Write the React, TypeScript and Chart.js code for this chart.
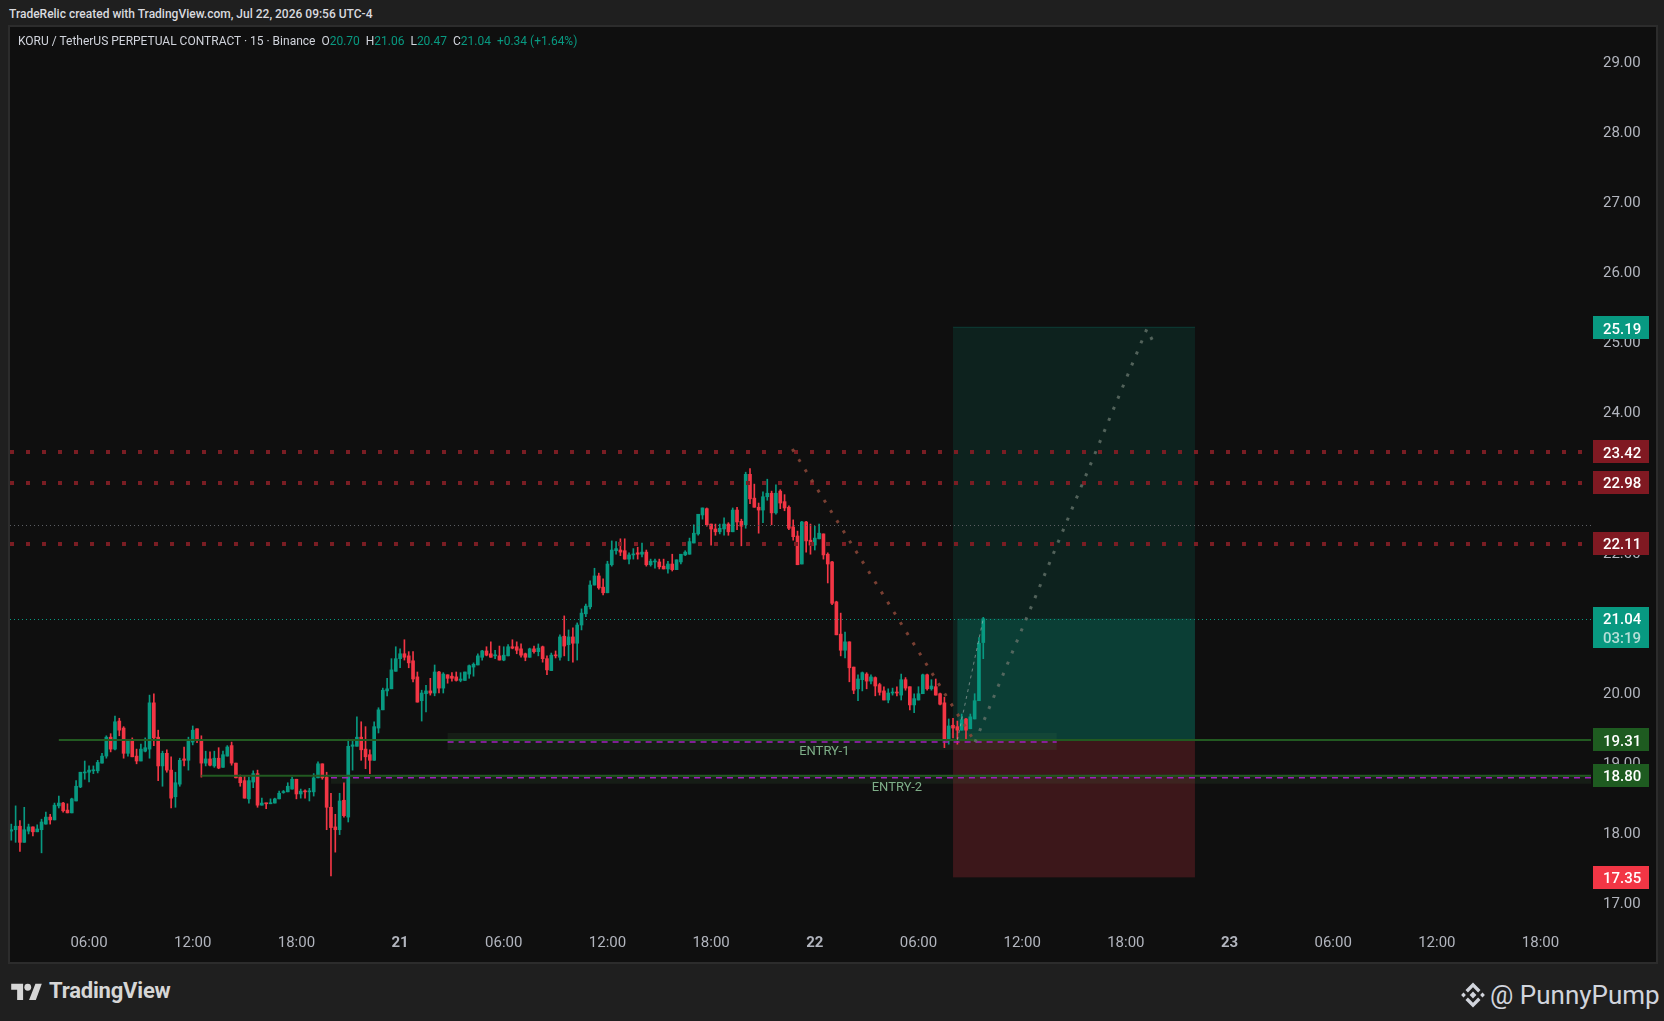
import React, { useEffect, useRef } from 'react';
import { Chart, registerables } from 'chart.js';

Chart.register(...registerables);

const FONT = "Roboto, 'Noto Sans', sans-serif";
const UP = '#089981';
const DOWN = '#f23645';

// time axis in hours counted from Jul 20, 00:00 (UTC-4); 15-minute candles
const firstCandleHour = 1.5;
const candleStepHours = 0.25;
const axisStartHour = 1.425;
const axisEndHour = 92.92;

const opens = [
  18.01,18.03,18.08,17.85,18.01,18.07,18.00,18.03,18.11,18.21,
  18.17,18.37,18.41,18.31,18.27,18.44,18.64,18.84,18.85,18.87,
  18.87,18.98,19.08,19.35,19.18,19.58,19.48,19.12,19.32,19.08,
  19.01,19.15,19.18,19.84,19.35,18.94,19.12,18.88,18.50,18.68,
  19.04,19.02,19.28,19.47,19.31,18.98,19.04,18.94,19.05,18.92,
  19.08,19.23,18.98,18.78,18.73,18.47,18.71,18.83,18.38,18.41,
  18.40,18.41,18.47,18.56,18.57,18.61,18.75,18.54,18.58,18.57,
  18.57,18.77,18.97,18.78,18.35,18.07,18.03,18.45,18.21,19.22,
  19.22,19.35,19.18,19.10,19.02,19.48,19.74,20.01,20.04,20.29,
  20.47,20.54,20.51,20.44,20.21,19.87,19.97,20.01,19.98,20.28,
  20.05,20.24,20.22,20.21,20.16,20.16,20.25,20.35,20.38,20.49,
  20.58,20.54,20.51,20.51,20.45,20.51,20.64,20.64,20.61,20.54,
  20.49,20.61,20.57,20.64,20.47,20.30,20.52,20.49,20.79,20.67,
  20.78,20.69,20.95,21.11,21.21,21.52,21.65,21.49,21.41,21.81,
  22.01,22.02,22.01,21.89,21.95,21.98,21.96,21.99,21.81,21.85,
  21.85,21.79,21.75,21.82,21.74,21.85,21.95,21.96,22.12,22.25,
  22.52,22.61,22.39,22.32,22.28,22.32,22.39,22.28,22.59,22.43,
  22.38,23.10,22.76,22.63,22.59,22.78,22.83,22.55,22.86,22.71,
  22.63,22.35,22.22,21.82,22.42,22.16,22.09,22.18,22.25,21.96,
  21.85,21.28,20.82,20.59,20.71,20.35,20.04,20.17,20.25,20.15,
  20.20,20.10,20.01,19.88,19.98,19.99,19.95,20.17,20.07,19.81,
  19.88,19.97,20.24,20.04,20.07,19.97,19.84,19.30,19.52,19.50,
  19.45,19.61,19.47,19.61,19.87,20.70,
];
const highs = [
  18.11,18.37,18.16,18.35,18.11,18.07,18.10,18.18,18.28,18.25,
  18.41,18.51,18.42,18.40,18.48,18.73,18.85,19.01,18.94,18.94,
  19.02,19.12,19.37,19.40,19.65,19.62,19.50,19.32,19.34,19.18,
  19.25,19.34,19.95,19.97,19.45,19.15,19.17,19.07,18.85,19.05,
  19.21,19.35,19.51,19.47,19.37,19.15,19.14,19.15,19.20,19.15,
  19.23,19.28,18.98,18.81,18.80,18.78,18.87,18.88,18.48,18.41,
  18.47,18.48,18.58,18.59,18.70,18.78,18.75,18.61,18.60,18.62,
  18.83,19.00,18.97,18.85,18.55,18.25,18.55,18.70,19.32,19.32,
  19.64,19.57,19.50,19.17,19.57,19.77,20.05,20.19,20.47,20.64,
  20.61,20.74,20.57,20.57,20.28,20.02,20.09,20.19,20.38,20.29,
  20.27,20.24,20.27,20.28,20.27,20.28,20.38,20.41,20.54,20.59,
  20.64,20.71,20.59,20.65,20.64,20.67,20.74,20.71,20.68,20.55,
  20.62,20.65,20.68,20.65,20.51,20.55,20.58,20.81,21.08,20.88,
  20.91,20.98,21.18,21.25,21.58,21.76,21.69,21.61,21.86,22.15,
  22.14,22.18,22.18,21.98,22.04,22.06,22.12,22.02,21.89,21.89,
  21.89,21.89,21.86,21.96,21.88,21.96,22.01,22.19,22.38,22.53,
  22.62,22.62,22.39,22.39,22.39,22.48,22.41,22.62,22.63,22.46,
  23.13,23.18,22.96,22.69,22.85,23.03,22.86,22.95,22.88,22.81,
  22.65,22.45,22.29,22.43,22.43,22.39,22.36,22.39,22.25,21.98,
  21.86,21.29,21.12,20.85,20.71,20.35,20.24,20.28,20.27,20.24,
  20.21,20.12,20.07,20.04,20.05,20.07,20.25,20.20,20.07,19.97,
  20.07,20.25,20.25,20.17,20.18,19.98,19.92,19.61,19.62,19.58,
  19.68,19.62,19.68,19.97,20.77,21.06,
];
const lows = [
  17.88,17.85,17.72,17.85,17.97,17.94,18.00,17.70,18.11,18.11,
  18.17,18.34,18.28,18.27,18.27,18.44,18.63,18.75,18.71,18.83,
  18.84,18.98,19.05,19.14,19.17,19.37,19.05,19.08,19.07,18.97,
  19.01,19.14,19.05,19.23,18.73,18.65,18.85,18.34,18.35,18.65,
  18.94,18.88,19.24,19.27,18.78,18.94,18.94,18.92,18.90,18.92,
  19.08,18.95,18.77,18.65,18.48,18.41,18.63,18.35,18.38,18.33,
  18.40,18.41,18.47,18.55,18.57,18.61,18.47,18.48,18.48,18.44,
  18.51,18.77,18.75,18.03,17.37,17.71,17.96,18.21,18.14,18.88,
  19.22,19.02,18.90,18.83,19.02,19.41,19.74,19.94,20.04,20.29,
  20.34,20.45,20.34,20.14,19.85,19.58,19.71,19.95,19.94,19.98,
  19.98,20.12,20.15,20.15,20.14,20.16,20.19,20.22,20.38,20.45,
  20.51,20.49,20.47,20.45,20.44,20.51,20.61,20.54,20.49,20.44,
  20.49,20.55,20.51,20.42,20.24,20.30,20.48,20.45,20.51,20.44,
  20.42,20.45,20.88,21.07,21.18,21.52,21.46,21.38,21.41,21.79,
  21.96,21.94,21.89,21.82,21.89,21.89,21.92,21.79,21.79,21.76,
  21.75,21.75,21.69,21.72,21.74,21.82,21.94,21.96,22.12,22.23,
  22.46,22.36,22.09,22.23,22.25,22.23,22.23,22.28,22.31,22.08,
  22.33,22.68,22.63,22.26,22.41,22.73,22.38,22.53,22.61,22.58,
  22.31,22.16,21.81,21.82,21.99,21.96,22.02,22.18,21.89,21.55,
  21.24,20.81,20.51,20.48,20.14,19.97,19.87,20.01,20.04,20.11,
  19.94,19.95,19.88,19.84,19.95,19.94,19.88,20.02,19.74,19.70,
  19.88,19.97,20.02,20.02,19.95,19.81,19.20,19.25,19.34,19.25,
  19.45,19.32,19.47,19.61,19.87,20.47,
];
const closes = [
  18.03,18.08,17.85,18.03,18.07,18.00,18.04,18.14,18.21,18.17,
  18.38,18.41,18.30,18.27,18.47,18.65,18.85,18.85,18.88,18.88,
  18.99,19.08,19.35,19.18,19.57,19.45,19.12,19.32,19.07,19.01,
  19.18,19.20,19.84,19.34,18.94,19.12,18.88,18.48,18.70,19.02,
  19.02,19.30,19.45,19.30,18.98,19.04,18.95,19.05,18.91,19.10,
  19.21,18.98,18.77,18.70,18.48,18.73,18.83,18.38,18.41,18.40,
  18.41,18.47,18.55,18.57,18.65,18.75,18.54,18.58,18.57,18.58,
  18.77,18.97,18.77,18.35,18.06,18.03,18.44,18.23,19.22,19.24,
  19.35,19.17,19.07,19.02,19.50,19.74,20.02,20.04,20.31,20.47,
  20.54,20.49,20.41,20.18,19.85,19.98,20.01,19.98,20.28,20.05,
  20.25,20.19,20.19,20.16,20.18,20.28,20.37,20.39,20.51,20.58,
  20.52,20.49,20.52,20.45,20.52,20.64,20.62,20.59,20.52,20.49,
  20.61,20.57,20.62,20.47,20.31,20.52,20.51,20.78,20.65,20.78,
  20.69,20.95,21.12,21.22,21.52,21.65,21.48,21.41,21.82,22.02,
  22.04,21.99,21.89,21.95,21.96,21.96,21.99,21.81,21.86,21.86,
  21.78,21.75,21.82,21.74,21.88,21.96,21.99,22.14,22.26,22.53,
  22.62,22.38,22.32,22.28,22.33,22.39,22.28,22.59,22.42,22.36,
  23.10,22.75,22.63,22.59,22.78,22.83,22.55,22.83,22.69,22.62,
  22.33,22.21,21.81,22.42,22.15,22.09,22.19,22.26,21.95,21.82,
  21.26,20.81,20.59,20.71,20.34,20.02,20.18,20.27,20.15,20.21,
  20.08,19.99,19.88,19.98,19.99,19.98,20.17,20.05,19.81,19.90,
  19.97,20.24,20.04,20.08,19.95,19.82,19.30,19.51,19.48,19.45,
  19.60,19.45,19.64,19.87,20.69,21.04,
];

const timeTickHours = [6, 12, 18, 24, 30, 36, 42, 48, 54, 60, 66, 72, 78, 84, 90];
const timeTickLabels = ['06:00', '12:00', '18:00', '21', '06:00', '12:00', '18:00', '22', '06:00', '12:00', '18:00', '23', '06:00', '12:00', '18:00'];

const priceMin = 16.742;
const priceMax = 29.481;
const resistanceLevels = [23.42, 22.98, 22.11];
const referenceLevel = 22.38;
const lastPrice = 21.04;
const barCountdown = '03:19';
const entryLevels = [19.31, 18.80];
const entryLineStartHours = [4.25, 12.5];
const entryBandStartHours = [26.75, 20.0];
const entryBandEndHours = [62.0, 92.92];
const entryLabels = ['ENTRY-1', 'ENTRY-2'];
const entryLabelHours = [48.55, 52.75];
const positionTarget = 25.19;
const positionEntry = 19.31;
const positionStop = 17.35;
const positionStartHour = 56.0;
const positionEndHour = 70.0;
const positionFillStartHour = 56.25;
const pathDownHours = [46.7, 57.27];
const pathDownPrices = [23.46, 19.28];
const pathUpHours = [57.27, 67.21, 67.73];
const pathUpPrices = [19.28, 25.17, 24.92];
const tradeLineHours = [56.25, 57.75];
const tradeLinePrices = [19.31, 21.04];

const candleHours = opens.map((_, i) => firstCandleHour + i * candleStepHours);
const candleColors = opens.map((o, i) => (closes[i] >= o ? UP : DOWN));

function polyline(ctx: CanvasRenderingContext2D, xs: number[], ys: number[]) {
  ctx.beginPath();
  xs.forEach((px, i) => (i === 0 ? ctx.moveTo(px, ys[i]) : ctx.lineTo(px, ys[i])));
  ctx.stroke();
}

const overlayPlugin = {
  id: 'tvOverlay',
  beforeDatasetsDraw(chart: any) {
    const { ctx, chartArea: a, scales } = chart;
    const x = scales.x;
    const y = scales.y;
    ctx.save();
    ctx.beginPath();
    ctx.rect(a.left, a.top, a.right - a.left, a.bottom - a.top);
    ctx.clip();
    const xs = x.getPixelForValue(positionStartHour);
    const xe = x.getPixelForValue(positionEndHour);
    const xf = x.getPixelForValue(positionFillStartHour);
    const yT = y.getPixelForValue(positionTarget);
    const yE = y.getPixelForValue(positionEntry);
    const yS = y.getPixelForValue(positionStop);
    const yC = y.getPixelForValue(lastPrice);
    ctx.fillStyle = 'rgba(8,153,129,0.14)';
    ctx.fillRect(xs, yT, xe - xs, yE - yT);
    ctx.fillStyle = 'rgba(242,54,69,0.2)';
    ctx.fillRect(xs, yE, xe - xs, yS - yE);
    ctx.fillStyle = 'rgba(8,153,129,0.24)';
    ctx.fillRect(xf, yC, xe - xf, yE - yC);
    ctx.fillStyle = 'rgba(8,153,129,0.35)';
    ctx.fillRect(xs, yT - 1, xe - xs, 1);
    entryLevels.forEach((p, i) => {
      const yy = y.getPixelForValue(p);
      const x0 = x.getPixelForValue(entryBandStartHours[i]);
      const x1 = x.getPixelForValue(entryBandEndHours[i]);
      ctx.fillStyle = 'rgba(70,120,70,0.14)';
      if (i === 0) ctx.fillRect(x0, yy - 7, x1 - x0, 17);
      else ctx.fillRect(x0, yy, x1 - x0, 8);
    });
    ctx.restore();
  },
  afterDatasetsDraw(chart: any) {
    const { ctx, chartArea: a, scales } = chart;
    const x = scales.x;
    const y = scales.y;
    ctx.save();
    ctx.beginPath();
    ctx.rect(a.left, a.top, a.right - a.left, a.bottom - a.top);
    ctx.clip();
    ctx.strokeStyle = '#7a1d23';
    ctx.lineWidth = 4;
    ctx.setLineDash([4, 12]);
    resistanceLevels.forEach((p) => {
      const yy = Math.round(y.getPixelForValue(p));
      polyline(ctx, [a.left, a.right], [yy, yy]);
    });
    ctx.lineWidth = 1;
    ctx.setLineDash([1, 3]);
    ctx.strokeStyle = '#5b5e63';
    const yr = Math.round(y.getPixelForValue(referenceLevel)) + 0.5;
    polyline(ctx, [a.left, a.right], [yr, yr]);
    ctx.strokeStyle = UP;
    const yl = Math.round(y.getPixelForValue(lastPrice)) + 0.5;
    polyline(ctx, [a.left, a.right], [yl, yl]);
    entryLevels.forEach((p, i) => {
      const yy = y.getPixelForValue(p);
      ctx.setLineDash([]);
      ctx.lineWidth = 2;
      ctx.strokeStyle = '#225a21';
      polyline(ctx, [x.getPixelForValue(entryLineStartHours[i]), a.right], [yy, yy]);
      ctx.lineWidth = 1.5;
      ctx.setLineDash([6, 5]);
      ctx.strokeStyle = '#a21fbf';
      polyline(ctx, [x.getPixelForValue(entryBandStartHours[i]), x.getPixelForValue(entryBandEndHours[i])], [yy + 2, yy + 2]);
      ctx.setLineDash([]);
      ctx.fillStyle = '#7eae88';
      ctx.font = `13px ${FONT}`;
      ctx.textAlign = 'center';
      ctx.textBaseline = 'middle';
      ctx.fillText(entryLabels[i], x.getPixelForValue(entryLabelHours[i]), yy + 12);
    });
    ctx.lineWidth = 3;
    ctx.setLineDash([3, 9]);
    ctx.strokeStyle = 'rgba(140,72,56,0.85)';
    polyline(ctx, pathDownHours.map((h) => x.getPixelForValue(h)), pathDownPrices.map((p) => y.getPixelForValue(p)));
    ctx.strokeStyle = 'rgba(95,110,102,0.85)';
    polyline(ctx, pathUpHours.map((h) => x.getPixelForValue(h)), pathUpPrices.map((p) => y.getPixelForValue(p)));
    ctx.lineWidth = 1;
    ctx.setLineDash([3, 4]);
    ctx.strokeStyle = 'rgba(190,190,190,0.55)';
    polyline(ctx, tradeLineHours.map((h) => x.getPixelForValue(h)), tradeLinePrices.map((p) => y.getPixelForValue(p)));
    ctx.restore();
  },
  afterDraw(chart: any) {
    const { ctx, chartArea: a, scales } = chart;
    const y = scales.y;
    const tags = [
      { price: positionTarget, bg: UP },
      ...resistanceLevels.map((p) => ({ price: p, bg: '#801922' })),
      { price: entryLevels[0], bg: '#1e5b20' },
      { price: entryLevels[1], bg: '#1e5b20' },
      { price: positionStop, bg: DOWN },
    ];
    ctx.save();
    ctx.font = `500 15px ${FONT}`;
    ctx.textAlign = 'left';
    ctx.textBaseline = 'middle';
    tags.forEach((t) => {
      const py = y.getPixelForValue(t.price);
      ctx.fillStyle = t.bg;
      ctx.fillRect(a.right + 2, Math.round(py - 11.5), 56, 23);
      ctx.fillStyle = '#ffffff';
      ctx.fillText(t.price.toFixed(2), a.right + 12, py + 2);
    });
    const pc = y.getPixelForValue(lastPrice);
    ctx.fillStyle = UP;
    ctx.fillRect(a.right + 2, Math.round(pc - 11.5), 56, 41);
    ctx.fillStyle = '#ffffff';
    ctx.fillText(lastPrice.toFixed(2), a.right + 12, pc + 2);
    ctx.fillStyle = 'rgba(225,240,236,0.8)';
    ctx.fillText(barCountdown, a.right + 12, pc + 20.5);
    ctx.restore();
  },
};

function TvLogo() {
  return (
    <svg width="31" height="17" viewBox="0 0 36 20" style={{ position: 'absolute', left: 11, top: 983 }}>
      <path d="M14 20H7V8H0V1h14v19zM29 20h-8l7.5-19h7.5L29 20z" fill="#d6d6d6" />
      <circle cx="19.5" cy="5" r="4" fill="#d6d6d6" />
    </svg>
  );
}

function BinanceLogo() {
  return (
    <svg width="28" height="28" viewBox="0 0 28 28" style={{ position: 'absolute', left: 1459, top: 981 }}>
      <g fill="#d1d4dc">
        <polygon points="14,10.6 17.4,14 14,17.4 10.6,14" />
        <polygon points="4.5,11.6 6.9,14 4.5,16.4 2.1,14" />
        <polygon points="23.5,11.6 25.9,14 23.5,16.4 21.1,14" />
        <polygon points="14,1.5 21.5,9 19.1,11.4 14,6.3 8.9,11.4 6.5,9" />
        <polygon points="14,26.5 21.5,19 19.1,16.6 14,21.7 8.9,16.6 6.5,19" />
      </g>
    </svg>
  );
}

export default function App() {
  const canvasRef = useRef<HTMLCanvasElement | null>(null);

  useEffect(() => {
    const canvas = canvasRef.current;
    if (!canvas) return;
    const chart = new Chart(canvas, {
      type: 'bar',
      data: {
        datasets: [
          {
            label: 'wicks',
            data: candleHours.map((h, i) => ({ x: h, y: [lows[i], highs[i]] })) as any,
            backgroundColor: candleColors,
            barThickness: 1,
            grouped: false,
            borderWidth: 0,
          } as any,
          {
            label: 'bodies',
            data: candleHours.map((h, i) => ({ x: h, y: [opens[i], closes[i]] })) as any,
            backgroundColor: candleColors,
            barThickness: 3,
            minBarLength: 1,
            grouped: false,
            borderWidth: 0,
          } as any,
        ],
      },
      options: {
        animation: false,
        responsive: false,
        maintainAspectRatio: false,
        devicePixelRatio: 1,
        layout: { padding: 0 },
        plugins: { legend: { display: false }, tooltip: { enabled: false } },
        events: [],
        scales: {
          x: {
            type: 'linear',
            offset: false,
            min: axisStartHour,
            max: axisEndHour,
            grid: { display: false, drawTicks: false, offset: false },
            border: { display: false },
            afterFit: (s: any) => {
              s.height = 40;
              s.paddingLeft = 0;
              s.paddingRight = 0;
            },
            afterBuildTicks: (s: any) => { s.ticks = timeTickHours.map((v) => ({ value: v })); },
            ticks: {
              autoSkip: false,
              maxRotation: 0,
              padding: 14,
              color: '#b2b5be',
              font: (c: any) => {
                const idx = timeTickHours.indexOf(c.tick ? c.tick.value : -1);
                const isDay = idx >= 0 && !timeTickLabels[idx].includes(':');
                return { family: FONT, size: 15, weight: isDay ? 'bold' : 'normal' } as any;
              },
              callback: (v: any) => {
                const idx = timeTickHours.indexOf(Number(v));
                return idx >= 0 ? timeTickLabels[idx] : '';
              },
            },
          } as any,
          y: {
            type: 'linear',
            position: 'right',
            min: priceMin,
            max: priceMax,
            grace: 0,
            grid: { display: false, drawTicks: false },
            border: { display: false },
            afterFit: (s: any) => {
              s.width = 63;
              s.paddingTop = 0;
              s.paddingBottom = 0;
            },
            ticks: {
              stepSize: 1,
              includeBounds: false,
              padding: 12,
              labelOffset: 2.5,
              color: '#b2b5be',
              font: { family: FONT, size: 15 },
              callback: (v: any) => (Number.isInteger(Number(v)) ? Number(v).toFixed(2) : ''),
            },
          } as any,
        },
      },
      plugins: [overlayPlugin as any],
    });
    return () => chart.destroy();
  }, []);

  const green = { color: UP };
  return (
    <div style={{ position: 'fixed', left: 0, top: 0, width: 1664, height: 1021, background: '#1f1f1f', overflow: 'hidden', fontFamily: FONT }}>
      <div style={{ position: 'absolute', left: 9, top: 6, fontSize: 12, lineHeight: '16px', fontWeight: 500, color: '#d9dadf', whiteSpace: 'nowrap' }}>
        TradeRelic created with TradingView.com, Jul 22, 2026 09:56 UTC-4
      </div>
      <div style={{ position: 'absolute', left: 8, top: 25, width: 1646, height: 935, border: '2px solid #2c2c2c', background: '#0f0f0f' }} />
      <canvas ref={canvasRef} width={1644} height={933} style={{ position: 'absolute', left: 10, top: 27, width: 1644, height: 933 }} />
      <div style={{ position: 'absolute', left: 18, top: 34, fontSize: 12, lineHeight: '15px', color: '#d1d4dc', whiteSpace: 'nowrap' }}>
        KORU / TetherUS PERPETUAL CONTRACT · 15 · Binance&nbsp;&nbsp;O<span style={green}>20.70</span>&nbsp;&nbsp;H<span style={green}>21.06</span>&nbsp;&nbsp;L<span style={green}>20.47</span>&nbsp;&nbsp;C<span style={green}>21.04</span>&nbsp;&nbsp;<span style={green}>+0.34 (+1.64%)</span>
      </div>
      <TvLogo />
      <div style={{ position: 'absolute', left: 49, top: 978, fontSize: 22, lineHeight: '26px', fontWeight: 700, color: '#d6d6d6', whiteSpace: 'nowrap', letterSpacing: -0.2 }}>
        TradingView
      </div>
      <BinanceLogo />
      <div style={{ position: 'absolute', left: 1490, top: 979, fontSize: 26, lineHeight: '32px', color: '#d1d4dc', whiteSpace: 'nowrap' }}>
        @ PunnyPump
      </div>
    </div>
  );
}
